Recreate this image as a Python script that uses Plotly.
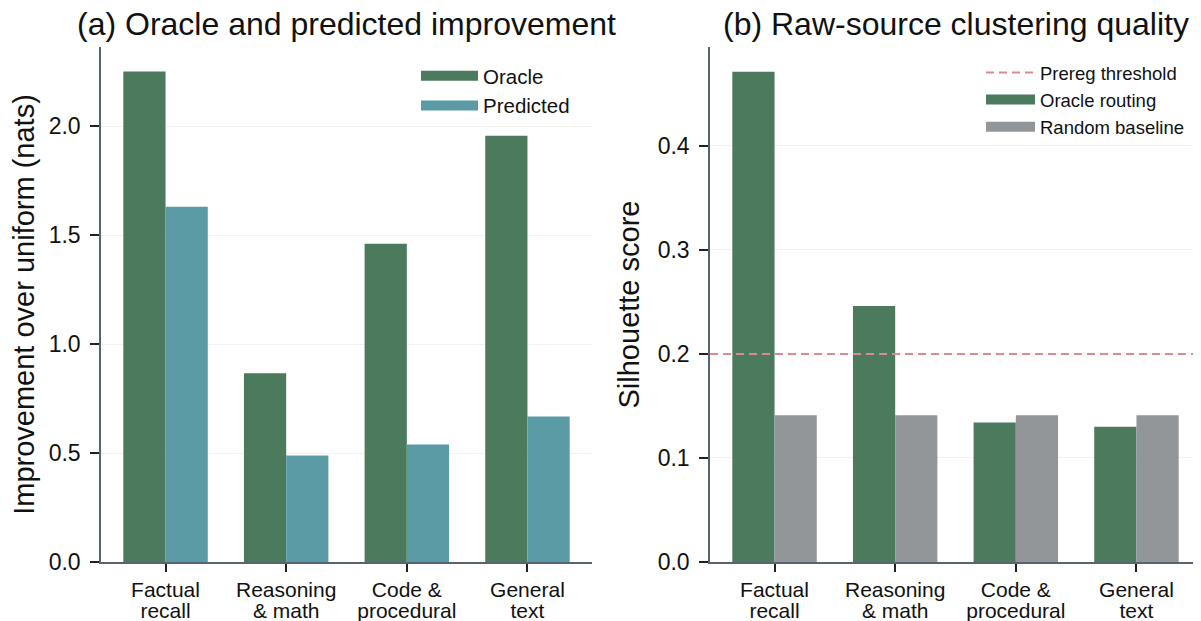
import plotly.graph_objects as go

categories = ["Factual recall", "Reasoning & math", "Code & procedural", "General text"]
label_line1 = ["Factual", "Reasoning", "Code &", "General"]
label_line2 = ["recall", "& math", "procedural", "text"]
oracle_improvement = [2.25, 0.866, 1.46, 1.955]
predicted_improvement = [1.63, 0.488, 0.539, 0.668]
oracle_silhouette = [0.471, 0.246, 0.134, 0.130]
random_silhouette = [0.141, 0.141, 0.141, 0.141]
prereg_threshold = 0.2
left_ticks = [0.0, 0.5, 1.0, 1.5, 2.0]
right_ticks = [0.0, 0.1, 0.2, 0.3, 0.4]

GREEN = "#4b7a5c"
TEAL = "#5b9ba6"
GRAY = "#939699"
RED = "#d98a93"
AXIS = "#5a6470"
FONT = "Liberation Sans, Arial, Helvetica, sans-serif"

# the page body has an 8px default margin; compensate so the picture lines up
OFF = 8
W, H = 1201 - OFF, 621 - OFF
mt = 47 - OFF
mb = 621 - 562
ph = H - mt - mb


def px(x):
    return (x - OFF) / W


fig = go.Figure()

fig.add_trace(go.Bar(x=categories, y=oracle_improvement, marker=dict(color=GREEN, line_width=0),
                     xaxis="x", yaxis="y", showlegend=False, legendgroup="o1"))
fig.add_trace(go.Bar(x=categories, y=predicted_improvement, marker=dict(color=TEAL, line_width=0),
                     xaxis="x", yaxis="y", showlegend=False, legendgroup="p1"))
fig.add_trace(go.Bar(x=categories, y=oracle_silhouette, marker=dict(color=GREEN, line_width=0),
                     xaxis="x2", yaxis="y2", showlegend=False, legendgroup="o2"))
fig.add_trace(go.Bar(x=categories, y=random_silhouette, marker=dict(color=GRAY, line_width=0),
                     xaxis="x2", yaxis="y2", showlegend=False, legendgroup="r2"))

# invisible carriers so the second-line label axes get the same categories
fig.add_trace(go.Scatter(x=categories, y=[None] * len(categories), mode="markers",
                         xaxis="x3", yaxis="y", showlegend=False, hoverinfo="skip"))
fig.add_trace(go.Scatter(x=categories, y=[None] * len(categories), mode="markers",
                         xaxis="x4", yaxis="y2", showlegend=False, hoverinfo="skip"))

# legend swatches (wide rectangles like the reference)
for name, col, grp, leg, xa, ya in [("Oracle", GREEN, "o1", "legend", "x", "y"),
                                    ("Predicted", TEAL, "p1", "legend", "x", "y"),
                                    ("Oracle routing", GREEN, "o2", "legend2", "x2", "y2"),
                                    ("Random baseline", GRAY, "r2", "legend2", "x2", "y2")]:
    fig.add_trace(go.Scatter(x=[None], y=[None], mode="lines", name=name,
                             line=dict(color=col, width=15), legendgroup=grp,
                             legend=leg, xaxis=xa, yaxis=ya, showlegend=True))

fig.add_shape(type="line", xref="x2 domain", x0=0, x1=1, yref="y2",
              y0=prereg_threshold, y1=prereg_threshold,
              line=dict(color=RED, width=2, dash="8px,5px"),
              showlegend=True, name="Prereg threshold", legend="legend2", legendrank=1)

XR = [-0.535, 3.535]
xcommon = dict(type="category", range=XR, showline=True, linecolor=AXIS, linewidth=1.5,
               ticks="outside", ticklen=8, tickwidth=1.5, tickcolor="#222222",
               tickvals=categories, ticktext=label_line1,
               tickfont=dict(size=21, color="#111111", family=FONT), showgrid=False,
               zeroline=False, automargin=False)
xsecond = dict(type="category", range=XR, showline=False, ticks="outside", ticklen=8,
               tickcolor="rgba(0,0,0,0)", tickvals=categories, ticktext=label_line2,
               tickfont=dict(size=21, color="#111111", family=FONT), showgrid=False,
               zeroline=False, automargin=False, ticklabelstandoff=22, side="bottom")
ycommon = dict(showline=True, linecolor=AXIS, linewidth=1.5, ticks="outside", ticklen=9,
               tickwidth=1.5, tickcolor="#222222", tickfont=dict(size=23, color="#111111", family=FONT),
               showgrid=True, gridcolor="#f2f2ee", gridwidth=1, zeroline=False,
               ticklabelstandoff=5, automargin=False)

fig.update_layout(
    width=W, height=H,
    margin=dict(l=0, r=0, t=mt, b=mb, pad=0),
    paper_bgcolor="white", plot_bgcolor="white",
    font=dict(family=FONT, color="#111111"),
    barmode="group", bargap=0.3, bargroupgap=0,
    xaxis=dict(domain=[px(101), px(592)], anchor="y", **xcommon),
    xaxis2=dict(domain=[px(710), 1.0], anchor="y2", **xcommon),
    xaxis3=dict(overlaying="x", anchor="y", **xsecond),
    xaxis4=dict(overlaying="x2", anchor="y2", **xsecond),
    yaxis=dict(domain=[0, 1], anchor="x", range=[0, 2.3625], tickvals=left_ticks,
               ticktext=[f"{v:.1f}" for v in left_ticks],
               title=dict(text="Improvement over uniform (nats)", font=dict(size=29, family=FONT),
                          standoff=10), **ycommon),
    yaxis2=dict(domain=[0, 1], anchor="x2", range=[0, 0.4949], tickvals=right_ticks,
                ticktext=[f"{v:.1f}" for v in right_ticks],
                title=dict(text="Silhouette score", font=dict(size=29, family=FONT), standoff=10),
                **ycommon),
    legend=dict(x=px(416), y=1 - (56 - 47) / ph, xanchor="left", yanchor="top",
                bgcolor="rgba(0,0,0,0)", font=dict(size=20.5, family=FONT), tracegroupgap=0,
                itemwidth=57),
    legend2=dict(x=px(981), y=1 - (54 - 47) / ph, xanchor="left", yanchor="top",
                 bgcolor="rgba(0,0,0,0)", font=dict(size=18.5, family=FONT), tracegroupgap=0,
                 itemwidth=49),
    annotations=[
        dict(text="(a) Oracle and predicted improvement", xref="paper", yref="paper",
             x=(px(101) + px(592)) / 2, y=1 + 23 / ph, xanchor="center", yanchor="middle",
             showarrow=False, font=dict(size=32, family=FONT, color="#111111")),
        dict(text="(b) Raw-source clustering quality", xref="paper", yref="paper",
             x=(px(710) + 1.0) / 2, y=1 + 23 / ph, xanchor="center", yanchor="middle",
             showarrow=False, font=dict(size=32, family=FONT, color="#111111")),
    ],
)

fig.write_html("out.html")
